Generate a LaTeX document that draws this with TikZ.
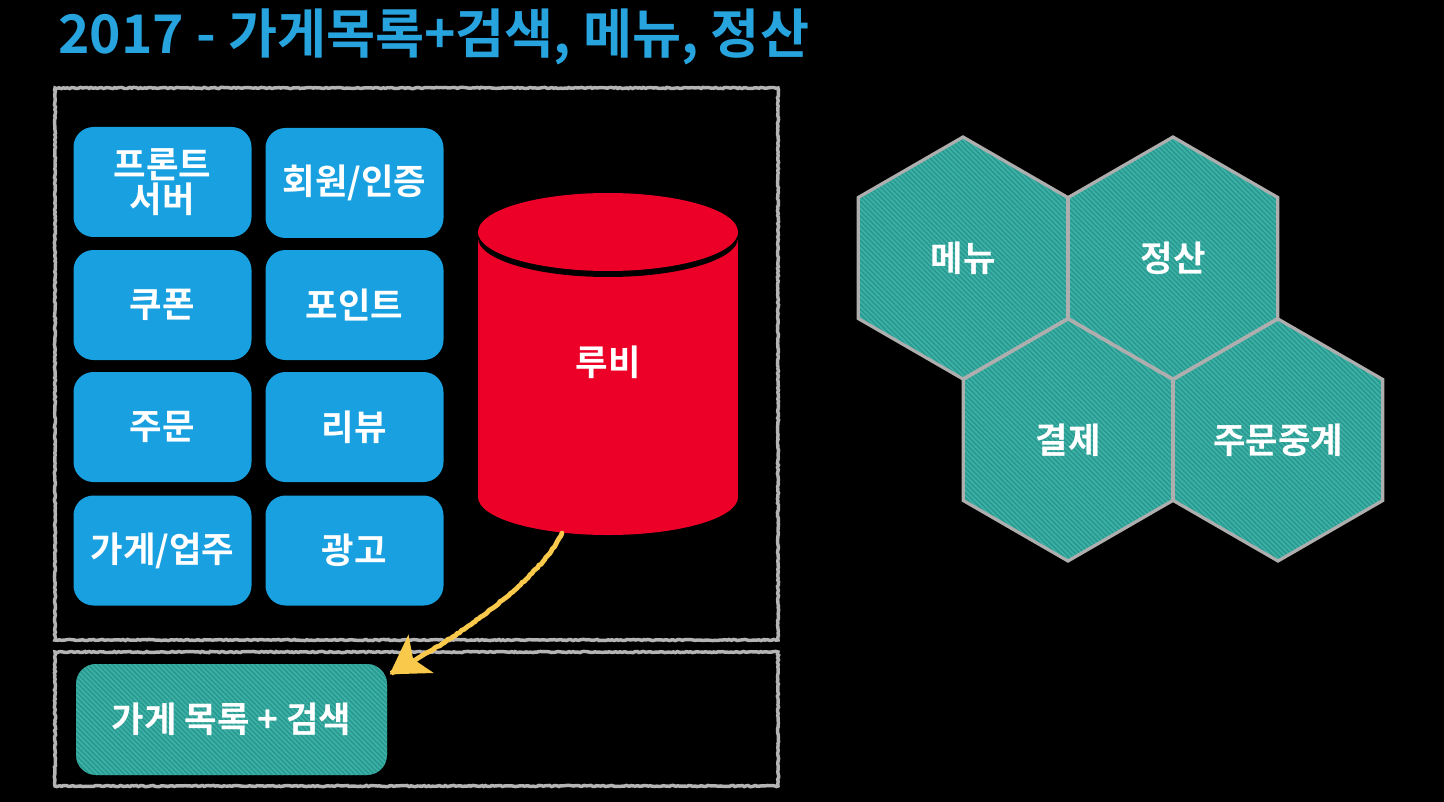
\documentclass[tikz,border=0pt]{standalone}
\usepackage{fontspec}
\setmainfont{Noto Sans CJK KR}[BoldFont={Noto Sans CJK KR Bold}]
\usetikzlibrary{shapes.geometric,patterns.meta,decorations.pathmorphing,arrows.meta,calc}

\definecolor{titleblue}{HTML}{27A4DE}
\definecolor{boxblue}{HTML}{19A0E0}
\definecolor{dbred}{HTML}{EC0028}
\definecolor{tealbase}{HTML}{3DB1A7}
\definecolor{tealline}{HTML}{28988E}
\definecolor{chalkgray}{HTML}{B4B4B4}
\definecolor{hexgray}{HTML}{AEAEAE}
\definecolor{chalkyellow}{HTML}{F8C94A}

\tikzset{
  label text/.style={text=white, font=\bfseries\fontsize{26.5}{28}\selectfont, align=center},
  svcbox/.style={label text, fill=boxblue, rounded corners=15pt,
    minimum width=178*0.75pt, minimum height=110*0.75pt, inner sep=0pt},
  tealfill/.style={preaction={fill=tealbase},
    pattern={Lines[angle=-45, distance=2.6pt, line width=1.1pt]}, pattern color=tealline},
  listbox/.style={label text, tealfill, rounded corners=15pt,
    minimum width=311*0.75pt, minimum height=111*0.75pt, inner sep=0pt},
  hexcell/.style={label text, tealfill, draw=hexgray, line width=2.4pt,
    regular polygon, regular polygon sides=6, shape border rotate=30,
    minimum size=242*0.75pt, inner sep=0pt, outer sep=0pt},
  chalkframe/.style={draw=chalkgray, line width=2.6pt, decorate,
    decoration={random steps, segment length=1.6pt, amplitude=0.45pt},
    minimum width=#1, inner sep=0pt},
  chalkarrow/.style={draw=chalkyellow, line width=3.6pt, line cap=round,
    decorate, decoration={random steps, segment length=2pt, amplitude=0.4pt},
    -{Stealth[length=28pt, width=34pt, inset=7pt]}},
}

\begin{document}
\begin{tikzpicture}[x=0.75pt, y=-0.75pt]
  % canvas
  \fill[black] (0,0) rectangle (1444,802);
  \useasboundingbox (0,0) rectangle (1444,802);

  % heading
  \node[anchor=west, text=titleblue, font=\bfseries\fontsize{40}{43}\selectfont, inner sep=0pt]
    (title) at (58,37) {2017 - 가게목록+검색, 메뉴, 정산};

  % chalk frames
  \node[chalkframe=723*0.75pt, minimum height=552*0.75pt] (legacy) at (416.5,364) {};
  \node[chalkframe=723*0.75pt, minimum height=134*0.75pt] (newsys) at (416.5,719) {};

  % services on the monolith
  \node[svcbox] (front)  at (162.5,182) {프론트\\[-2pt]서버};
  \node[svcbox] (member) at (354.5,183) {회원/인증};
  \node[svcbox] (coupon) at (162.5,305) {쿠폰};
  \node[svcbox] (point)  at (354.5,305) {포인트};
  \node[svcbox] (order)  at (162.5,427) {주문};
  \node[svcbox] (review) at (354.5,427) {리뷰};
  \node[svcbox] (shop)   at (162.5,550.5) {가게/업주};
  \node[svcbox] (ad)     at (354.5,550.5) {광고};

  % the database cylinder
  \fill[dbred] (478,232) rectangle (738,497);
  \fill[dbred] (608,497) ellipse[x radius=130, y radius=38];
  \begin{scope}
    \clip (478,232) rectangle (738,300);
    \fill[black] (608,238) ellipse[x radius=130, y radius=39];
  \end{scope}
  \fill[dbred] (608,232) ellipse[x radius=130, y radius=39];
  \node[label text] (ruby) at (608,362) {루비};
  \coordinate (dbfoot) at (562,533);

  % extracted service
  \node[listbox] (list) at (231.5,719.5) {가게 목록 + 검색};

  % migration arrow
  \draw[chalkarrow] (dbfoot) .. controls (545,572) and (470,632) .. ($(list.north east)+(2,11)$);

  % new services
  \node[hexcell] (menu)   at (963,258)  {메뉴};
  \node[hexcell] (settle) at (1173,258) {정산};
  \node[hexcell] (pay)    at (1068,440) {결제};
  \node[hexcell] (relay)  at (1278,440) {주문중계};
\end{tikzpicture}
\end{document}
